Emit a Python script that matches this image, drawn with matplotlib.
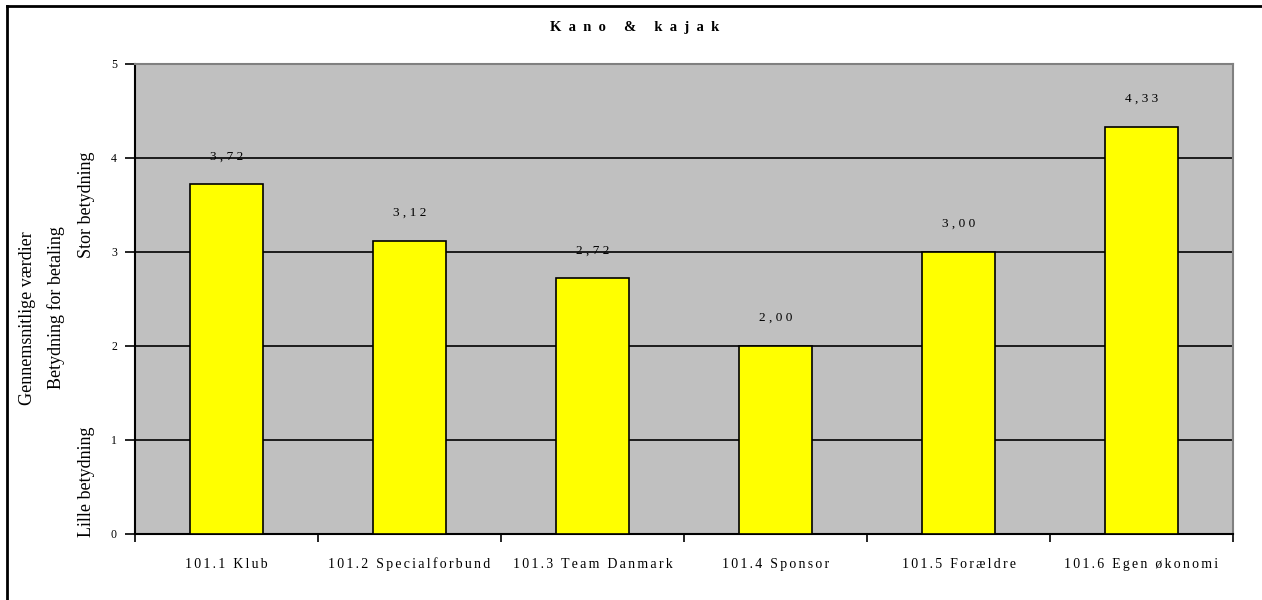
import matplotlib.pyplot as plt
from matplotlib.lines import Line2D
import numpy as np

categories = ["101.1 Klub", "101.2 Specialforbund", "101.3 Team Danmark",
              "101.4 Sponsor", "101.5 Forældre", "101.6 Egen økonomi"]
values = [3.72, 3.12, 2.72, 2.00, 3.00, 4.33]
yticks = [0, 1, 2, 3, 4, 5]
title = "Kano & kajak"

plt.rcParams["font.family"] = ["Liberation Serif", "DejaVu Serif"]


def spaced(s, sep):
    # fake letter spacing like the original chart
    return sep.join(s)


fig = plt.figure(figsize=(12.62, 6), dpi=100)
ax = fig.add_axes([135 / 1262, 66 / 600, 1098 / 1262, 470 / 600])

x = np.arange(len(categories))
bars = ax.bar(x, values, width=0.4, color="#ffff00", edgecolor="black",
              linewidth=1.2, zorder=3)

ax.set_facecolor("#c0c0c0")
ax.set_xlim(-0.5, len(categories) - 0.5)
ax.set_ylim(0, 5)
ax.set_yticks(yticks)
ax.set_yticklabels([str(t) for t in yticks], fontsize=8.5)
ax.yaxis.grid(True, color="black", linewidth=1.2, zorder=1)
ax.set_axisbelow(True)

ax.set_xticks(x)
ax.set_xticklabels([spaced(c, "\u2006") for c in categories], fontsize=10)
ax.set_xticks(np.arange(len(categories) + 1) - 0.5, minor=True)
ax.tick_params(axis="x", which="major", length=0, pad=17)
ax.tick_params(axis="x", which="minor", length=6, width=1.2, direction="out")
ax.tick_params(axis="y", length=7, width=1.2, direction="out", pad=6)

for side in ["left", "bottom"]:
    ax.spines[side].set_linewidth(1.5)
    ax.spines[side].set_color("black")
for side in ["top", "right"]:
    ax.spines[side].set_linewidth(1.5)
    ax.spines[side].set_color("#808080")

for b, v in zip(bars, values):
    ax.annotate(spaced(f"{v:.2f}".replace(".", ","), " "),
                (b.get_x() + b.get_width() / 2, v),
                xytext=(0, 20), textcoords="offset points",
                ha="center", va="center", fontsize=9.5)

fig.text(0.503, 1 - 27 / 600, spaced(title, "  "), ha="center",
         va="center", fontsize=10.5, fontweight="bold")

fig.text(28 / 1262, 1 - 318 / 600, "Gennemsnitlige værdier", rotation=90,
         ha="center", va="center", fontsize=13)
fig.text(56 / 1262, 1 - 308 / 600, "Betydning for betaling", rotation=90,
         ha="center", va="center", fontsize=13)
fig.text(86 / 1262, 1 - 482 / 600, "Lille betydning", rotation=90,
         ha="center", va="center", fontsize=13)
fig.text(86 / 1262, 1 - 205 / 600, "Stor betydning", rotation=90,
         ha="center", va="center", fontsize=13)

# outer frame (left and top edges visible)
fig.add_artist(Line2D([7 / 1262, 7 / 1262], [0, 1 - 6 / 600],
                      color="black", linewidth=2, transform=fig.transFigure))
fig.add_artist(Line2D([7 / 1262, 1], [1 - 6 / 600, 1 - 6 / 600],
                      color="black", linewidth=2, transform=fig.transFigure))

fig.savefig("out.png", dpi=100)
